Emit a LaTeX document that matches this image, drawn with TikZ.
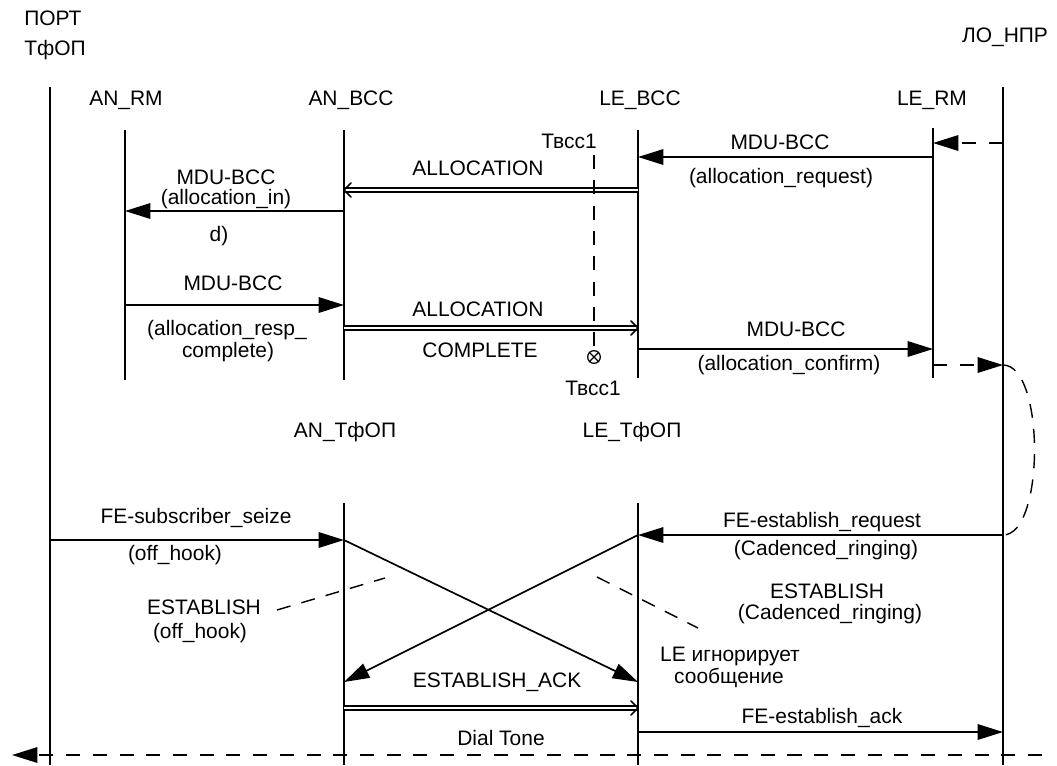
\documentclass[tikz,border=0pt]{standalone}
\usepackage{fontspec}
\setmainfont{Liberation Sans}
\usetikzlibrary{arrows.meta}

\begin{document}
\begin{tikzpicture}[x=0.025cm,y=-0.025cm,font=\fontsize{14.9}{17}\selectfont,
  life/.style={line width=1.4pt},
  msg/.style={line width=1.2pt,-{Triangle[length=18pt,width=11pt]}},
  dmsg/.style={msg,dash pattern=on 10pt off 9pt},
  dbl/.style={double,line width=1pt,double distance=1.6pt},
  chev/.style={line width=1.1pt,line join=round,line cap=round},
  lead/.style={line width=1pt,dash pattern=on 10pt off 8pt}]
\useasboundingbox (0,0) rectangle (1057,765);

% Headers
\node[inner sep=0pt,anchor=west] (port1) at (24,18) {ПОРТ};
\node[inner sep=0pt,anchor=west] (port2) at (24,50) {ТфОП};
\node (lonprL) at (1005,37) {ЛО\_НПР};
\node (anrmL) at (126,100) {AN\_RM};
\node (anbccL) at (351,100) {AN\_BCC};
\node (lebccL) at (640,100) {LE\_BCC};
\node (lermL) at (932,100) {LE\_RM};
\node (antfopL) at (345,432) {AN\_ТфОП};
\node (letfopL) at (632,432) {LE\_ТфОП};

% Lifelines
\coordinate (port) at (50,87);     \coordinate (port-e) at (50,765);
\coordinate (anrm) at (125,130);   \coordinate (anrm-e) at (125,380);
\coordinate (anbcc) at (344,130);  \coordinate (anbcc-e) at (344,380);
\coordinate (lebcc) at (638,130);  \coordinate (lebcc-e) at (638,378);
\coordinate (lerm) at (933,128);   \coordinate (lerm-e) at (933,378);
\coordinate (lonpr) at (1003,87);  \coordinate (lonpr-e) at (1003,765);
\coordinate (antfop) at (344,503); \coordinate (antfop-e) at (344,765);
\coordinate (letfop) at (638,503); \coordinate (letfop-e) at (638,765);
\draw[life] (port) -- (port-e);
\draw[life] (anrm) -- (anrm-e);
\draw[life] (anbcc) -- (anbcc-e);
\draw[life] (lebcc) -- (lebcc-e);
\draw[life] (lerm) -- (lerm-e);
\draw[life] (lonpr) -- (lonpr-e);
\draw[life] (antfop) -- (antfop-e);
\draw[life] (letfop) -- (letfop-e);

% Message levels
\coordinate (y1) at (0,143);
\coordinate (y2) at (0,157);
\coordinate (y3) at (0,190);
\coordinate (y4) at (0,211);
\coordinate (y5) at (0,305);
\coordinate (y6) at (0,328);
\coordinate (y7) at (0,349);
\coordinate (y8) at (0,365);
\coordinate (y9) at (0,540);
\coordinate (y10) at (0,535);
\coordinate (y11) at (0,682);
\coordinate (y12) at (0,708);
\coordinate (y13) at (0,732);

% Allocation
\draw[dmsg] (lonpr |- y1) -- (lerm |- y1);
\draw[msg] (lerm |- y2) -- (lebcc |- y2);
\node (m2a) at (780,142) {MDU-BCC};
\node (m2b) at (781,178) {(allocation\_request)};

\coordinate (a3) at (anbcc |- y3);
\draw[dbl] (lebcc |- y3) -- ([xshift=1pt]a3);
\draw[chev] (a3) +(7,-7) -- (a3) -- +(7,7);
\node (m3a) at (478,168) {ALLOCATION};

\draw[msg] (anbcc |- y4) -- (anrm |- y4);
\node (m4a) at (226,177) {MDU-BCC};
\node (m4b) at (226,199) {(allocation\_in)};
\node (m4c) at (219,236) {d)};

\draw[msg] (anrm |- y5) -- (anbcc |- y5);
\node (m5a) at (233,283) {MDU-BCC};
\node (m5b) at (227,330) {(allocation\_resp\_};
\node (m5c) at (228,352) {complete)};

\coordinate (a6) at (lebcc |- y6);
\draw[dbl] (anbcc |- y6) -- ([xshift=-1pt]a6);
\draw[chev] (a6) +(-7,-7) -- (a6) -- +(-7,7);
\node (m6a) at (478,309) {ALLOCATION};
\node (m6b) at (480,350) {COMPLETE};

\draw[msg] (lebcc |- y7) -- (lerm |- y7);
\node (m7a) at (796,329) {MDU-BCC};
\node (m7b) at (789,365) {(allocation\_confirm)};

\draw[dmsg] (lerm |- y8) -- (lonpr |- y8);
\draw[lead] (lonpr |- y8) .. controls +(42,0) and +(42,0) .. (lonpr |- y10);

% Timer
\node[draw,circle,inner sep=0pt,minimum size=9pt,line width=0.9pt] (tmr) at (594,357) {};
\draw[line width=0.9pt] (tmr.north west) -- (tmr.south east) (tmr.north east) -- (tmr.south west);
\coordinate (tmr-s) at (594,155);
\draw[lead] (tmr-s) -- (tmr.north);
\node (tmrA) at (569,141) {Твсс1};
\node (tmrB) at (593,388) {Твсс1};

% Establish
\draw[msg] (port |- y9) -- (antfop |- y9);
\node (m9a) at (196,518) {FE-subscriber\_seize};
\node (m9b) at (175,555) {(off\_hook)};

\draw[msg] (lonpr |- y10) -- (letfop |- y10);
\node (m10a) at (822,522) {FE-establish\_request};
\node (m10b) at (826,550) {(Cadenced\_ringing)};

\draw[msg] (antfop |- y9) -- (letfop |- y11);
\draw[msg] (letfop |- y10) -- (antfop |- y11);

\node (e1a) at (204,607) {ESTABLISH};
\node (e1b) at (200,633) {(off\_hook)};
\coordinate (lA1) at (277,610); \coordinate (lA2) at (385,578);
\draw[lead] (lA1) -- (lA2);

\node (e2a) at (827,591) {ESTABLISH};
\node (e2b) at (830,614) {(Cadenced\_ringing)};
\coordinate (lB1) at (597,577); \coordinate (lB2) at (698,628);
\draw[lead] (lB1) -- (lB2);

\node[inner sep=0pt] (ign1) at (730,656) {LE игнорирует};
\node[inner sep=0pt] (ign2) at (729,678) {сообщение};

\coordinate (a12) at (letfop |- y12);
\draw[dbl] (antfop |- y12) -- ([xshift=-1pt]a12);
\draw[chev] (a12) +(-7,-7) -- (a12) -- +(-7,7);
\node (m12) at (497,682) {ESTABLISH\_ACK};

\draw[msg] (letfop |- y13) -- (lonpr |- y13);
\node (m13) at (822,718) {FE-establish\_ack};

% Dial tone
\coordinate (toneR) at (1042,755); \coordinate (toneL) at (12,755);
\draw[dmsg] (toneR) -- (toneL);
\node (tone) at (501,738) {Dial Tone};

\end{tikzpicture}
\end{document}
